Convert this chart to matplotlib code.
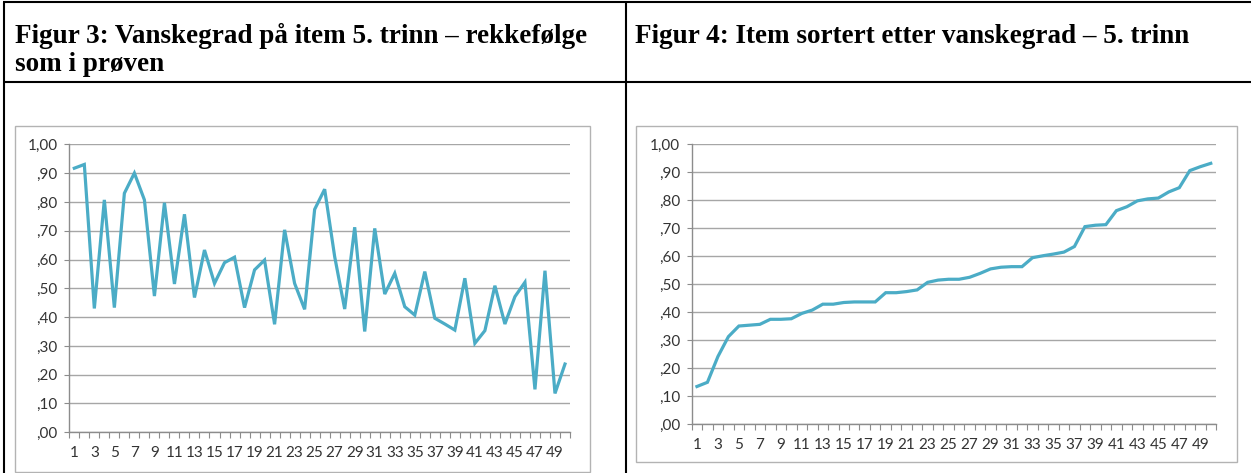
import numpy as np
import matplotlib
matplotlib.use("Agg")
import matplotlib.pyplot as plt
from matplotlib.lines import Line2D
from matplotlib.patches import Rectangle

# ---- data ----
items = np.arange(1, 51)
order_values = [0.917, 0.930, 0.430, 0.807, 0.433, 0.830, 0.900, 0.807, 0.473, 0.797,
                0.515, 0.757, 0.468, 0.633, 0.517, 0.589, 0.608, 0.433, 0.564, 0.598,
                0.375, 0.703, 0.517, 0.427, 0.774, 0.844, 0.610, 0.428, 0.712, 0.350,
                0.708, 0.480, 0.552, 0.436, 0.407, 0.558, 0.396, 0.376, 0.355, 0.535,
                0.309, 0.353, 0.509, 0.376, 0.471, 0.521, 0.149, 0.561, 0.135, 0.237]
sorted_values = [0.135, 0.150, 0.242, 0.313, 0.351, 0.354, 0.357, 0.375, 0.375, 0.377,
                 0.396, 0.408, 0.429, 0.429, 0.435, 0.437, 0.437, 0.437, 0.470, 0.470,
                 0.474, 0.480, 0.507, 0.515, 0.518, 0.518, 0.525, 0.539, 0.555, 0.561,
                 0.563, 0.563, 0.595, 0.602, 0.608, 0.615, 0.635, 0.706, 0.711, 0.713,
                 0.763, 0.777, 0.798, 0.805, 0.808, 0.830, 0.845, 0.906, 0.920, 0.932]
y_ticks = [0.0, 0.1, 0.2, 0.3, 0.4, 0.5, 0.6, 0.7, 0.8, 0.9, 1.0]
y_tick_labels = [",00", ",10", ",20", ",30", ",40", ",50", ",60", ",70", ",80", ",90", "1,00"]
x_label_items = list(range(1, 50, 2))
title_left = ["Figur 3: Vanskegrad på item 5. trinn – rekkefølge", "som i prøven"]
title_right = "Figur 4: Item sortert etter vanskegrad – 5. trinn"

W, H = 1251, 473
LINE_COLOR = "#4bacc6"
GRID_COLOR = "#a6a6a6"
TEXT_COLOR = "#333333"

fig = plt.figure(figsize=(W / 100, H / 100), dpi=100)
fig.patch.set_facecolor("white")


def px_box(x0, y0, x1, y1):
    # image pixel box (y down) -> figure fraction rect
    return [x0 / W, 1 - y1 / H, (x1 - x0) / W, (y1 - y0) / H]


def fig_line(x0, y0, x1, y1, lw=1.5, color="black"):
    fig.add_artist(Line2D([x0 / W, x1 / W], [1 - y0 / H, 1 - y1 / H],
                          transform=fig.transFigure, color=color, lw=lw,
                          solid_capstyle="butt"))


def title(x, y, s):
    fig.text(x / W, 1 - y / H, s, fontsize=19.5, fontweight="bold",
             family="Liberation Serif", va="baseline", ha="left")


# table borders
fig_line(3, 2.5, W, 2.5)
fig_line(3, 82, W, 82)
fig_line(4, 2, 4, H)
fig_line(625.5, 2, 625.5, H)

# titles
title(15, 43, title_left[0])
title(15, 71, title_left[1])
title(635, 43, title_right)

# chart frames
for (x0, y0, x1, y1) in [(15, 126.5, 589.5, 471.5), (636, 126.5, 1236.5, 461.5)]:
    fig.add_artist(Rectangle((x0 / W, 1 - y1 / H), (x1 - x0) / W, (y1 - y0) / H,
                             transform=fig.transFigure, fill=False,
                             edgecolor="#b3b3b3", lw=1))


def draw_chart(rect, values):
    ax = fig.add_axes(rect)
    ax.plot(items, values, color=LINE_COLOR, lw=2.3, solid_joinstyle="miter",
            clip_on=False)
    ax.set_xlim(0.5, 50.5)
    ax.set_ylim(0, 1)
    ax.set_yticks(y_ticks)
    ax.set_yticklabels(y_tick_labels)
    ax.set_xticks(x_label_items)
    ax.set_xticklabels([str(i) for i in x_label_items])
    ax.set_xticks(np.arange(0.5, 51, 1), minor=True)
    ax.yaxis.grid(True, color=GRID_COLOR, lw=1)
    ax.set_axisbelow(True)
    for s in ["top", "right"]:
        ax.spines[s].set_visible(False)
    for s in ["left", "bottom"]:
        ax.spines[s].set_color("#8c8c8c")
        ax.spines[s].set_linewidth(1)
    ax.tick_params(axis="x", which="major", length=0, pad=10,
                   labelsize=11, labelcolor=TEXT_COLOR)
    ax.tick_params(axis="x", which="minor", length=4, width=0.8,
                   color="#8c8c8c", direction="out")
    ax.tick_params(axis="y", length=3.5, width=0.8, color="#8c8c8c",
                   pad=5, labelsize=11, labelcolor=TEXT_COLOR)
    for lab in ax.get_xticklabels() + ax.get_yticklabels():
        lab.set_family("Lato")
    ax.set_facecolor("none")
    return ax


draw_chart(px_box(69.3, 144.3, 570, 432.3), order_values)
draw_chart(px_box(691.7, 144.3, 1216, 424.3), sorted_values)

fig.savefig("out.png", dpi=100)
